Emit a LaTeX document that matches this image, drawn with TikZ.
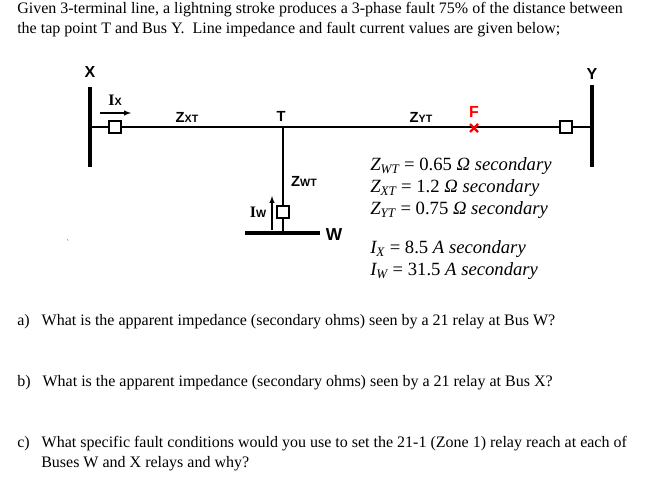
\documentclass[tikz,border=0pt]{standalone}
\usepackage{fontspec}
\setmainfont{Liberation Serif}
\newfontfamily\lab{Liberation Sans}
\begin{document}
\begin{tikzpicture}[x=0.75pt,y=-0.75pt,
  txt/.style={anchor=west,inner sep=0,font=\fontsize{12}{14}\selectfont},
  eq/.style={anchor=west,inner sep=0,font=\fontsize{14}{16}\selectfont\itshape},
  lb/.style={inner sep=0,font=\lab\bfseries\fontsize{11}{12}\selectfont},
  bus/.style={line width=2.4pt},
  ln/.style={line width=1.3pt},
  brk/.style={draw,line width=1.3pt,fill=white,minimum size=9pt,inner sep=0}]
\useasboundingbox (0,0) rectangle (666,477);
\node[txt] (h1) at (17,10) {Given 3-terminal line, a lightning stroke produces a 3-phase fault 75\% of the distance between};
\node[txt] (h2) at (17,30) {the tap point T and Bus Y.\ \ Line impedance and fault current values are given below;};
% buses
\coordinate (x1) at (90,87); \coordinate (x2) at (90,167);
\coordinate (y1) at (592,85); \coordinate (y2) at (592,167);
\draw[bus] (x1) -- (x2);
\draw[bus] (y1) -- (y2);
\coordinate (xm) at (90,127); \coordinate (ym) at (592,127);
\coordinate (t) at (283,127); \coordinate (wb) at (283,233);
\draw[ln] (xm) -- (ym);
\draw[ln] (t) -- (wb);
\coordinate (w1) at (245,233); \coordinate (w2) at (320,233);
\draw[bus] (w1) -- (w2);
\node[brk] (bx) at (115,127) {};
\node[brk] (by) at (566,127) {};
\node[brk] (bw) at (283,212) {};
\node[lb,font=\lab\bfseries\fontsize{12}{13}\selectfont] (lx) at (90,72) {X};
\node[lb,font=\lab\bfseries\fontsize{12}{13}\selectfont] (ly) at (592,74) {Y};
\node[lb,font=\lab\bfseries\fontsize{13}{14}\selectfont] (lw) at (334,235) {W};
\node[lb] (lt) at (281,116) {T};
\node[lb] (lzxt) at (187,117) {Z\fontsize{8}{9}\selectfont XT};
\node[lb] (lzyt) at (421,117) {Z\fontsize{8}{9}\selectfont YT};
\node[lb] (lzwt) at (304,181) {Z\fontsize{8}{9}\selectfont WT};
\node[inner sep=0,font=\bfseries\fontsize{12}{13}\selectfont] (lix) at (115,100) {I\lab\fontsize{8}{9}\selectfont X};
\node[inner sep=0,font=\bfseries\fontsize{12}{13}\selectfont] (liw) at (258,212) {I\lab\fontsize{8}{9}\selectfont W};
\coordinate (ax1) at (100,113); \coordinate (ax2) at (131,113);
\draw[-latex,line width=0.8pt] (ax1) -- (ax2);
\coordinate (aw1) at (272,230); \coordinate (aw2) at (272,196);
\draw[-latex,line width=0.8pt] (aw1) -- (aw2);
\node[inner sep=0,text=red,font=\lab\bfseries\fontsize{12}{13}\selectfont] (lf) at (474,112) {F};
\coordinate (f1) at (470,124); \coordinate (f2) at (478,132);
\coordinate (f3) at (470,132); \coordinate (f4) at (478,124);
\draw[red,line width=1.8pt] (f1) -- (f2) (f3) -- (f4);
\node[inner sep=0,text=red!70!black,font=\fontsize{6}{6}\selectfont] (dot) at (68,243) {\char"02CB};
% equations
\node[eq] (e1) at (370,166) {Z\textsubscript{WT}\upshape\ = 0.65 \itshape Ω secondary};
\node[eq] (e2) at (370,188) {Z\textsubscript{XT}\upshape\ = 1.2 \itshape Ω secondary};
\node[eq] (e3) at (370,210) {Z\textsubscript{YT}\upshape\ = 0.75 \itshape Ω secondary};
\node[eq] (e4) at (370,249) {I\textsubscript{X}\upshape\ = 8.5 \itshape A secondary};
\node[eq] (e5) at (370,271) {I\textsubscript{W}\upshape\ = 31.5 \itshape A secondary};
% questions
\node[txt] (qa) at (17,322) {a)\ \ \ What is the apparent impedance (secondary ohms) seen by a 21 relay at Bus W?};
\node[txt] (qb) at (17,383) {b)\ \ \ What is the apparent impedance (secondary ohms) seen by a 21 relay at Bus X?};
\node[txt] (qc1) at (17,444) {c)\ \ \ What specific fault conditions would you use to set the 21-1 (Zone 1) relay reach at each of};
\node[txt] (qc2) at (41,464) {Buses W and X relays and why?};
\end{tikzpicture}
\end{document}
